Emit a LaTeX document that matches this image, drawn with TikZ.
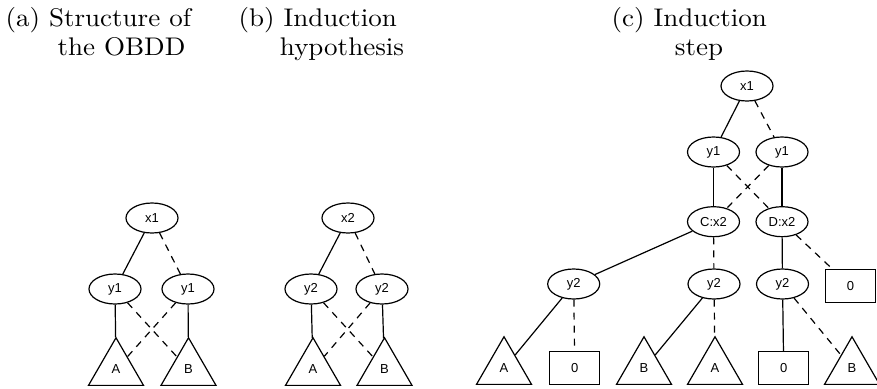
\documentclass[tikz,border=0pt]{standalone}
\usepackage{fontspec}
\usepackage{graphicx}
\newfontfamily\nodefont{Liberation Sans}
\usetikzlibrary{shapes.geometric}
\newcommand{\ttl}[1]{\scalebox{2.7}[2.55]{\fontsize{10}{12}\selectfont #1}}
\tikzset{
  every picture/.style={line width=1.2pt},
  var/.style={ellipse, draw, minimum width=52pt, minimum height=30pt, inner sep=0pt, font=\nodefont\fontsize{13}{13}\selectfont},
  tri/.style={regular polygon, regular polygon sides=3, draw, minimum size=63.5pt, inner sep=0pt, font=\nodefont\fontsize{13}{13}\selectfont},
  zbox/.style={rectangle, draw, minimum width=50pt, minimum height=33pt, inner sep=0pt, font=\nodefont\fontsize{13}{13}\selectfont},
  hi/.style={draw},
  lo/.style={draw, dash pattern=on 7pt off 6pt},
  ttlnode/.style={inner sep=0pt, anchor=base west},
  ttlc/.style={inner sep=0pt, anchor=base}
}
\begin{document}
\begin{tikzpicture}[x=1pt,y=-1pt]
\useasboundingbox (0,0) rectangle (877,388);
% titles
\node[ttlnode] (ta1) at (5,26.7) {\ttl{(a) Structure of}};
\node[ttlc] (ta2) at (121.5,55) {\ttl{the OBDD}};
\node[ttlnode] (tb1) at (238,26.7) {\ttl{(b) Induction}};
\node[ttlc] (tb2) at (342,55) {\ttl{hypothesis}};
\node[ttlnode] (tc1) at (611,26.7) {\ttl{(c) Induction}};
\node[ttlc] (tc2) at (699,55) {\ttl{step}};
% (a)
\node[var] (ax) at (152,218) {x1};
\node[var] (ayl) at (115,289) {y1};
\node[var] (ayr) at (188,289) {y1};
\node[tri] (aA) at (116,369.5) {A};
\node[tri] (aB) at (188.5,369.5) {B};
\draw[hi] (ax) -- (ayl);
\draw[lo] (ax) -- (ayr);
\draw[hi] (ayl) -- (aA);
\draw[lo] (ayl) -- (aB);
\draw[lo] (ayr) -- (aA);
\draw[hi] (ayr) -- (aB);
% (b)
\node[var] (bx) at (348,218) {x2};
\node[var] (byl) at (311,289) {y2};
\node[var] (byr) at (382,289) {y2};
\node[tri] (bA) at (313,369.5) {A};
\node[tri] (bB) at (384.5,369.5) {B};
\draw[hi] (bx) -- (byl);
\draw[lo] (bx) -- (byr);
\draw[hi] (byl) -- (bA);
\draw[lo] (byl) -- (bB);
\draw[lo] (byr) -- (bA);
\draw[hi] (byr) -- (bB);
% (c)
\node[var] (cx) at (747,86) {x1};
\node[var] (cyl) at (713.5,152) {y1};
\node[var] (cyr) at (782,152) {y1};
\node[var] (cC) at (713.5,221.7) {C:x2};
\node[var] (cD) at (782,221.7) {D:x2};
\node[var] (cya) at (573.7,284) {y2};
\node[var] (cyb) at (714,284) {y2};
\node[var] (cyc) at (782.5,284) {y2};
\node[zbox] (cz1) at (850.5,286) {0};
\node[tri] (cA1) at (504,368.5) {A};
\node[zbox] (cz2) at (574.7,368) {0};
\node[tri] (cB1) at (644,368.5) {B};
\node[tri] (cA2) at (715,368.5) {A};
\node[zbox] (cz3) at (783.7,368) {0};
\node[tri] (cB2) at (852,368.5) {B};
\draw[hi] (cx) -- (cyl);
\draw[lo] (cx) -- (cyr);
\draw[hi] (cyl) -- (cC);
\draw[lo] (cyl) -- (cD);
\draw[lo] (cyr) -- (cC);
\draw[hi] (cyr) -- (cD);
\draw[hi] (cC) -- (cya);
\draw[lo] (cC) -- (cyb);
\draw[hi] (cD) -- (cyc);
\draw[lo] (cD) -- (cz1);
\draw[hi] (cya) -- (cA1);
\draw[lo] (cya) -- (cz2);
\draw[hi] (cyb) -- (cB1);
\draw[lo] (cyb) -- (cA2);
\draw[hi] (cyc) -- (cz3);
\draw[lo] (cyc) -- (cB2);
\end{tikzpicture}
\end{document}
